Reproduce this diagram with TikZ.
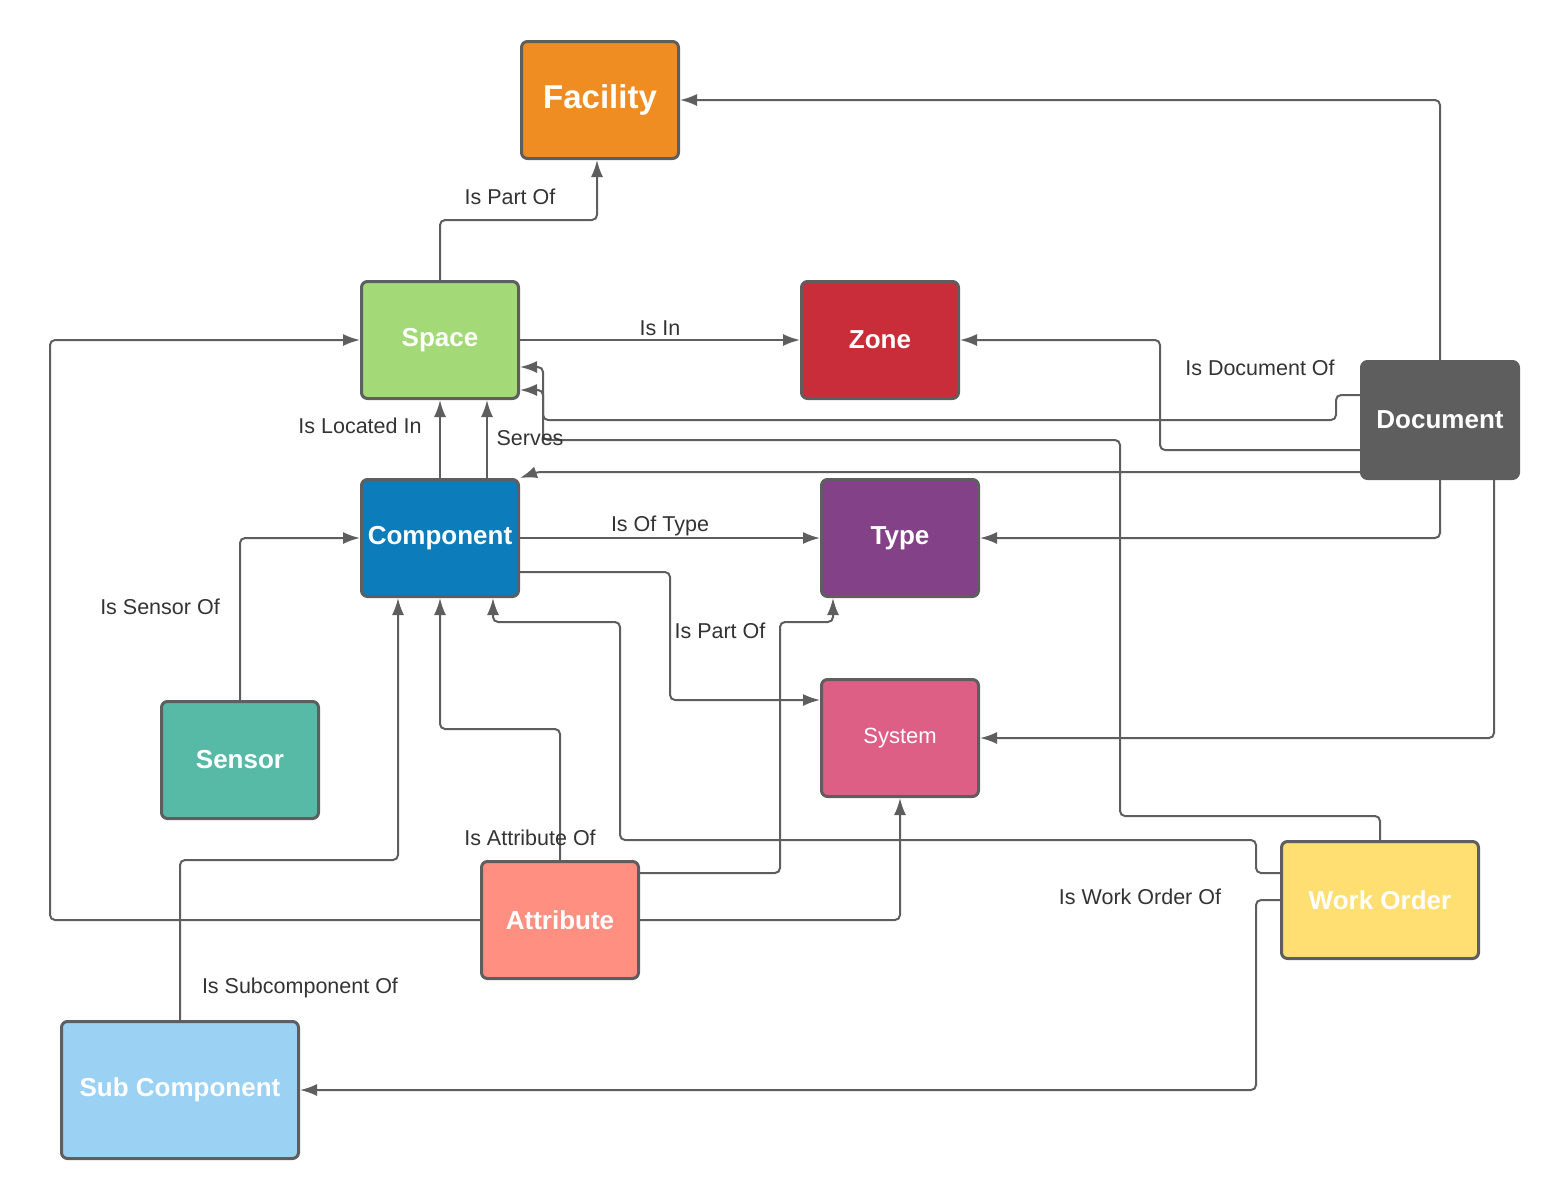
\documentclass[tikz,border=0pt]{standalone}
\usepackage{fontspec}
\setmainfont{Liberation Sans}
\usepackage{tikz}
\usetikzlibrary{positioning,arrows.meta}
\definecolor{linegray}{HTML}{5E5E5E}
\definecolor{textgray}{HTML}{333333}
\definecolor{facilityc}{HTML}{EF8D22}
\definecolor{spacec}{HTML}{A3D977}
\definecolor{zonec}{HTML}{C92D39}
\definecolor{documentc}{HTML}{5E5E5E}
\definecolor{componentc}{HTML}{0C7CBA}
\definecolor{typec}{HTML}{834187}
\definecolor{systemc}{HTML}{DE5F85}
\definecolor{sensorc}{HTML}{56BAA6}
\definecolor{attributec}{HTML}{FF8F80}
\definecolor{workorderc}{HTML}{FFDF71}
\definecolor{subcomponentc}{HTML}{9BD1F2}

\begin{document}
\begin{tikzpicture}[x=1pt,y=-1pt,
  box/.style={draw=linegray,line width=3pt,rounded corners=6pt,minimum width=157pt,minimum height=117pt,
    text=white,font=\bfseries\fontsize{26}{30}\selectfont},
  lbl/.style={text=textgray,font=\fontsize{21.5}{26}\selectfont,inner sep=0pt},
  link/.style={draw=linegray,line width=2pt,rounded corners=5pt,-{Latex[length=17pt,width=12pt]}}]
\useasboundingbox (0,0) rectangle (1560,1200);

\node[box,fill=facilityc,font=\bfseries\fontsize{33}{38}\selectfont] (facility) at (600,100) {Facility};
\node[box,fill=spacec] (space) at (440,340) {Space};
\node[box,fill=zonec] (zone) at (880,340) {Zone};
\node[box,fill=documentc] (document) at (1440,420) {Document};
\node[box,fill=componentc] (component) at (440,538) {Component};
\node[box,fill=typec] (type) at (900,538) {Type};
\node[box,fill=systemc,font=\fontsize{22}{26}\selectfont] (system) at (900,738) {System};
\node[box,fill=sensorc] (sensor) at (240,760) {Sensor};
\node[box,fill=attributec] (attribute) at (560,920) {Attribute};
\node[box,fill=workorderc,minimum width=197pt] (workorder) at (1380,900) {Work Order};
\node[box,fill=subcomponentc,minimum width=237pt,minimum height=137pt] (subcomponent) at (180,1090) {Sub Component};

\draw[link] (space.north) -- (440,220) -| ([xshift=-3pt]facility.south);
\draw[link] (document.north) |- (facility.east);
\draw[link] (space.east) -- (zone.west);
\draw[link] (document.west |- 0,450) -| (1160,340) -- (zone.east);
\draw[link] (document.west |- 0,395) -| (1336,420) -| (543,367) -- (space.east |- 0,367);
\draw[link] (workorder.north) |- (1120,816) |- (543,440) |- (space.east |- 0,390);
\draw[link] (document.west |- 0,472) -- (537,472) -- (component.north east);
\draw[link] (component.north) -- (space.south);
\draw[link] ([xshift=47pt]component.north) -- ([xshift=47pt]space.south);
\draw[link] (component.east) -- (type.west);
\draw[link] (document.south) |- (type.east);
\draw[link] (component.east |- 0,572) -| (670,700) -- (system.west |- 0,700);
\draw[link] (document.south -| 1494,0) |- (system.east);
\draw[link] (sensor.north) |- (component.west);
\draw[link] (attribute.north) |- (440,729) -- (component.south);
\draw[link] (attribute.east |- 0,873) -| (780,622) -| (type.south -| 833,0);
\draw[link] (attribute.east) -| (system.south);
\draw[link] (attribute.west) -| (50,340) -- (space.west);
\draw[link] (workorder.west |- 0,873) -| (1256,840) -| (620,622) -| (component.south -| 493,0);
\draw[link] (workorder.west) -| (1256,1090) -- (subcomponent.east);
\draw[link] (subcomponent.north) |- (398,860) -- (component.south -| 398,0);

% relation labels
\node[lbl] (lpartof) at (510,197) {Is Part Of};
\node[lbl] (lisin) at (660,328) {Is In};
\node[lbl] (ldocof) at (1260,368) {Is Document Of};
\node[lbl] (llocated) at (360,426) {Is Located In};
\node[lbl] (lserves) at (530,438) {Serves};
\node[lbl] (loftype) at (660,526) {Is Of Type};
\node[lbl] (lsensor) at (160,607) {Is Sensor Of};
\node[lbl] (lsyspart) at (720,631) {Is Part Of};
\node[lbl] (lattr) at (530,838) {Is Attribute Of};
\node[lbl] (lworder) at (1140,897) {Is Work Order Of};
\node[lbl] (lsubcomp) at (300,988) {Is Subcomponent Of};
\end{tikzpicture}
\end{document}
